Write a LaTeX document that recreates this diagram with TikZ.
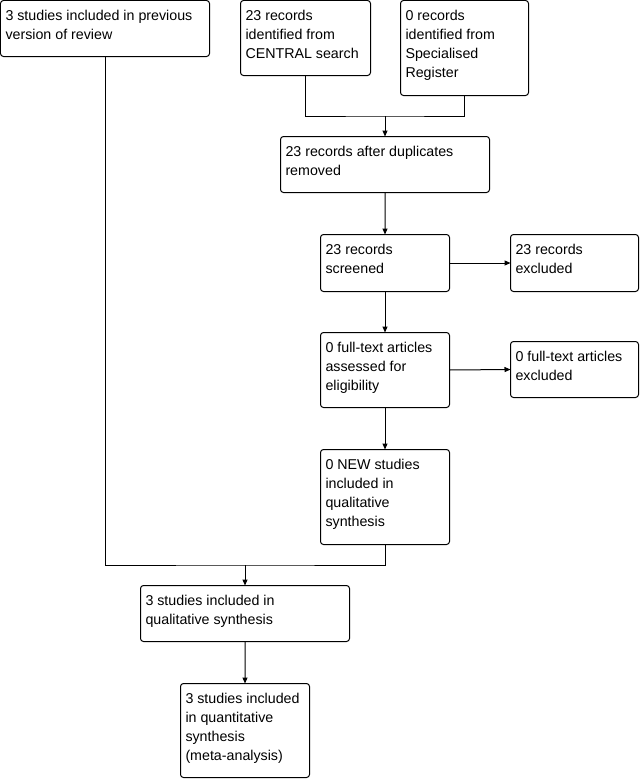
\documentclass[tikz,border=0pt]{standalone}
\usepackage{fontspec}
\setmainfont{Liberation Sans}
\usetikzlibrary{arrows.meta}
\tikzset{
 bx/.style={draw=black, line width=1bp, rounded corners=3bp, inner sep=0pt, outer sep=0pt},
 txt/.style={inner sep=0pt, outer sep=0pt, align=left, font=\fontsize{14.3}{19}\selectfont},
 arr/.style={-{Triangle[length=6bp,width=5bp]}, line width=1bp},
 ln/.style={line width=1bp},
}
\newcommand\bx[6]{%
 \node[bx, minimum width=#4bp, minimum height=#5bp, anchor=north west] (#1) at (#2,#3) {};
 \node[txt, anchor=north west] (#1t) at ([xshift=5bp,yshift=-10bp]#1.north west) {#6};}
\begin{document}
\begin{tikzpicture}[x=1bp,y=-1bp]
\useasboundingbox (0,0) rectangle (642,779);
\bx{A}{0.5}{0.5}{209}{56}{3 studies included in previous\\version of review}
\bx{B}{240.5}{0.5}{130}{75}{23 records\\identified from\\CENTRAL search}
\bx{C}{400.5}{0.5}{128}{95}{0 records\\identified from\\Specialised\\Register}
\bx{D}{280.5}{136.5}{209}{56}{23 records after duplicates\\removed}
\bx{E}{320.5}{234.5}{129}{57}{23 records\\screened}
\bx{F}{510.5}{234.5}{128}{57}{23 records\\excluded}
\bx{G}{320.5}{332.5}{129}{75}{0 full-text articles\\assessed for\\eligibility}
\bx{H}{510.5}{341.5}{128}{56}{0 full-text articles\\excluded}
\bx{I}{320.5}{449.5}{129}{95}{0 NEW studies\\included in\\qualitative\\synthesis}
\bx{J}{140.5}{585.5}{209}{56}{3 studies included in\\qualitative synthesis}
\bx{K}{180.5}{683.5}{129}{94}{3 studies included\\in quantitative\\synthesis\\(meta-analysis)}
\coordinate (m1) at (D.north |- 0,116);
\coordinate (m2) at (J.north |- 0,565);
\draw[ln] (B.south) |- (m1) -| (C.south);
\draw[arr] (m1) -- (D.north);
\draw[arr] (D.south) -- (E.north);
\draw[arr] (E.east) -- (F.west);
\draw[arr] (E.south) -- (G.north);
\draw[arr] (G.east) -- (H.west);
\draw[arr] (G.south) -- (I.north);
\draw[ln] (A.south) |- (m2) -| (I.south);
\draw[arr] (m2) -- (J.north);
\draw[arr] (J.south) -- (K.north);
\end{tikzpicture}
\end{document}
